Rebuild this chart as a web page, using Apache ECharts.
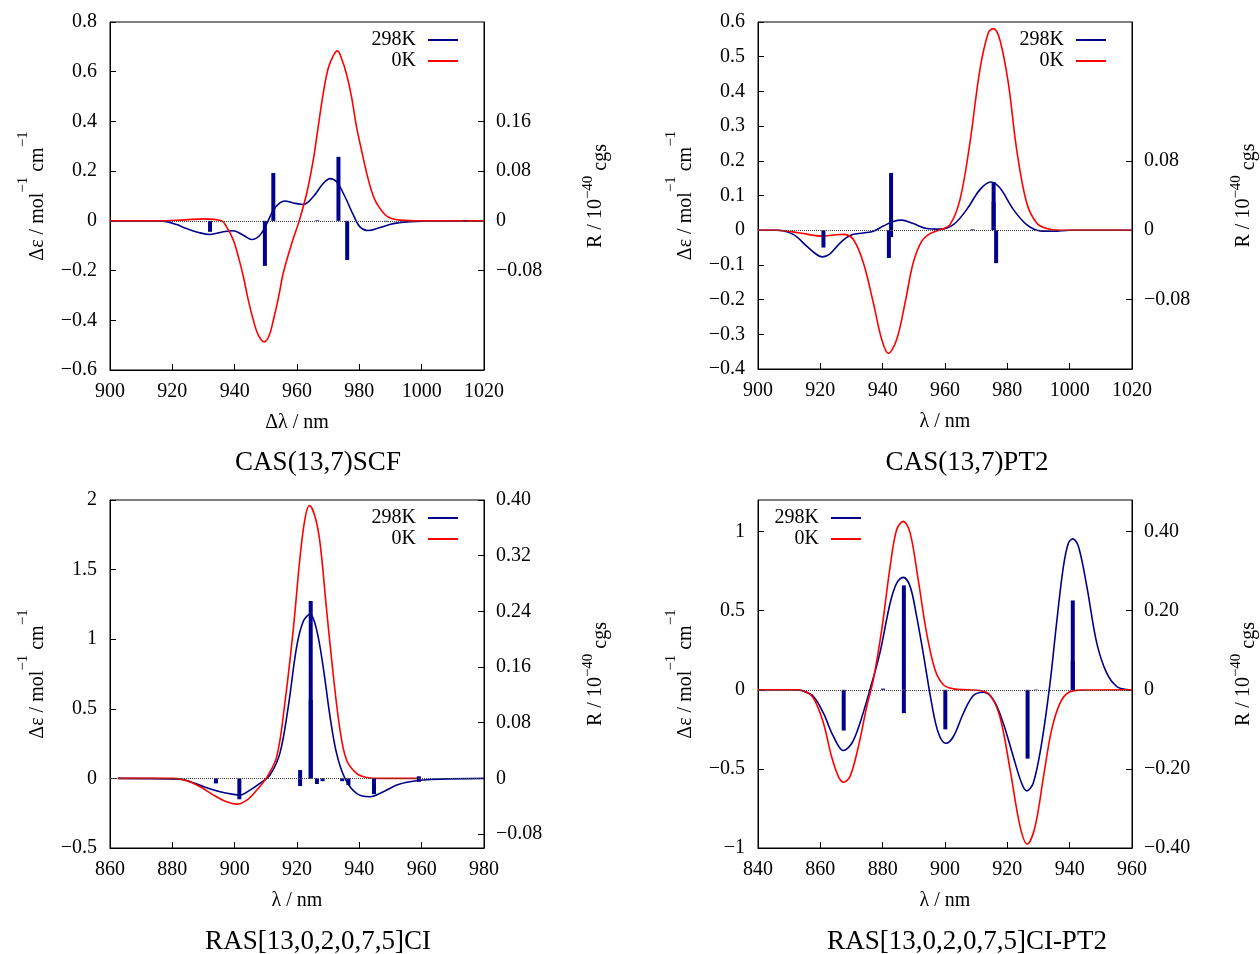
<!DOCTYPE html>
<html>
<head>
<meta charset="utf-8">
<script src="https://cdn.jsdelivr.net/npm/echarts@6/dist/echarts.min.js"></script>
<style>
  html, body { margin: 0; padding: 0; background: #fff; }
  #chart { width: 1260px; height: 954px; }
</style>
</head>
<body>
<div id="chart"></div>
<script>
// ---- CAS(13,7)SCF ----
const scfNm0 = [900, 915, 924, 930, 935.8, 937.4, 939.6, 941.2, 942.8, 944.4, 946, 947.6, 949.5, 951.1, 952.4, 954, 955.6, 958.3, 960.7, 963.1, 965.2, 966.8, 968.4, 970, 971.7, 973, 974.3, 975.9, 977.5, 979.1, 980.7, 982.4, 984, 985.6, 988.8, 993, 1000, 1020];
const scfEps0 = [0, 0, 0.004, 0.008, 0, -0.024, -0.078, -0.145, -0.225, -0.32, -0.40, -0.46, -0.487, -0.46, -0.40, -0.312, -0.21, -0.091, 0, 0.11, 0.244, 0.378, 0.512, 0.613, 0.666, 0.684, 0.653, 0.59, 0.499, 0.378, 0.284, 0.19, 0.117, 0.07, 0.019, 0.003, 0, 0];
const scfNm298 = [900, 915, 918.2, 921.4, 924.6, 928.5, 932, 936.4, 939.6, 942.8, 945.5, 948.1, 950.3, 952.4, 954.5, 956.1, 958.8, 962, 965.2, 968.4, 970.6, 972.7, 975.4, 978.1, 980.2, 982.9, 986.6, 990.9, 996.3, 1005, 1020];
const scfEps298 = [0, 0, -0.003, -0.015, -0.031, -0.047, -0.055, -0.044, -0.04, -0.058, -0.075, -0.058, -0.011, 0.043, 0.072, 0.08, 0.072, 0.066, 0.097, 0.15, 0.17, 0.157, 0.097, 0.023, -0.024, -0.039, -0.027, -0.011, -0.003, 0, 0];
const scfStickNm = [932.1, 949.7, 952.4, 966.5, 973.3, 976.1, 988.6, 1013.9];
const scfStickR = [-0.0176, -0.0725, 0.077, 0.001, 0.103, -0.063, -0.001, 0.001];
const scfRTicks = [-0.08, 0, 0.08, 0.16];

// ---- CAS(13,7)PT2 ----
const pt2Nm0 = [900, 906, 913.5, 920.4, 924.2, 927.4, 930.6, 933.8, 937, 939.7, 941.8, 944.5, 947.2, 949.8, 952.5, 955.2, 958.4, 961.6, 964.8, 968, 971.2, 973.9, 975.5, 977.6, 980.3, 983, 986.2, 989.4, 992.6, 997, 1020];
const pt2Eps0 = [0, 0, -0.008, -0.017, -0.014, -0.012, -0.027, -0.094, -0.209, -0.315, -0.355, -0.315, -0.209, -0.094, -0.032, -0.01, 0.001, 0.016, 0.088, 0.252, 0.463, 0.569, 0.581, 0.549, 0.425, 0.232, 0.079, 0.021, 0.005, 0, 0];
const pt2Nm298 = [900, 906, 911.3, 915.6, 918.8, 920.7, 923.1, 926.3, 929.5, 933.8, 937, 940.2, 943.4, 946.1, 949.8, 954.1, 958.4, 962.7, 967, 971.2, 974.7, 977.6, 981.9, 986.2, 990.5, 994.8, 1000, 1020];
const pt2Eps298 = [0, 0, -0.012, -0.046, -0.07, -0.077, -0.068, -0.037, -0.015, -0.008, -0.003, 0.012, 0.025, 0.029, 0.019, 0.005, 0.003, 0.016, 0.06, 0.117, 0.139, 0.122, 0.06, 0.016, -0.002, -0.003, 0, 0];
const pt2StickNm = [921, 942.0, 942.7, 942.7, 968.8, 975.6, 975.6, 976.4];
const pt2StickR = [-0.020, -0.032, 0.066, -0.008, 0.001, 0.0556, 0.033, -0.038];
const pt2RTicks = [-0.08, 0, 0.08];

// ---- RAS[13,0,2,0,7,5]CI ----
const rasNm0 = [862.5, 880.3, 884.6, 888.9, 893.2, 897.4, 900.6, 903.9, 907.1, 910.3, 913.5, 916.1, 918.8, 921, 922.6, 924, 925.8, 927.4, 929.5, 931.7, 933.8, 935.9, 939.1, 942.4, 947.7, 959];
const rasEps0 = [0, 0, -0.017, -0.06, -0.12, -0.168, -0.185, -0.156, -0.084, 0.007, 0.156, 0.54, 1.07, 1.595, 1.87, 1.96, 1.88, 1.69, 1.21, 0.73, 0.348, 0.132, 0.036, 0.007, 0, 0];
const rasNm298 = [862.5, 882.5, 886.7, 891, 895.3, 899.6, 901.7, 904.9, 908.1, 911.3, 914.5, 917.2, 919.9, 922, 924.2, 926.3, 928.4, 930.6, 932.7, 935.4, 939.1, 943.4, 947.7, 952, 956.3, 960.5, 965.9, 980];
const rasEps298 = [0, -0.005, -0.031, -0.067, -0.096, -0.115, -0.12, -0.084, -0.036, 0.024, 0.18, 0.516, 0.947, 1.127, 1.18, 1.067, 0.80, 0.444, 0.18, 0, -0.108, -0.132, -0.096, -0.048, -0.024, -0.012, -0.005, 0];
const rasStickNm = [894, 901.5, 921, 921, 924.4, 924.4, 926.4, 928.2, 934.5, 936.5, 944.7, 959.1, 959.1];
const rasStickR = [-0.0072, -0.030, 0.012, -0.011, 0.255, 0.113, -0.008, -0.004, -0.004, -0.0096, -0.0225, 0.003, -0.005];
const rasRTicks = [-0.08, 0, 0.08, 0.16, 0.24, 0.32, 0.40];

// ---- RAS[13,0,2,0,7,5]CI-PT2 ----
const rasPtNm0 = [840, 851.3, 854.5, 857.8, 861, 863.6, 865.8, 867.4, 869.5, 872.2, 874.9, 877, 879.7, 882.4, 884.5, 886.6, 888.8, 891.4, 894.1, 896.8, 899.5, 902.7, 907, 911.2, 914.4, 917.6, 920.9, 924.1, 926.4, 928.9, 931.6, 934.2, 936.9, 939.6, 943.3, 960];
const rasPtEps0 = [0, 0, -0.006, -0.053, -0.211, -0.422, -0.549, -0.584, -0.549, -0.359, -0.105, 0.063, 0.38, 0.78, 1.013, 1.065, 0.992, 0.696, 0.359, 0.127, 0.032, 0.006, 0, -0.004, -0.032, -0.169, -0.506, -0.865, -0.975, -0.865, -0.549, -0.253, -0.084, -0.017, -0.002, 0];
const rasPtNm298 = [840, 851.3, 854.5, 857.8, 861, 864.2, 867.4, 870.1, 872.7, 875.9, 879.1, 882.4, 884.5, 886.6, 888.8, 890.9, 893, 895.7, 897.9, 900.3, 902.7, 905.9, 909.1, 912.3, 915.5, 918.7, 921.9, 924.6, 926.2, 928.3, 931, 933.7, 935.8, 938, 939.6, 941, 942.8, 945.5, 948.7, 951.9, 955.1, 958.3, 960];
const rasPtEps298 = [0, 0, -0.008, -0.042, -0.148, -0.295, -0.384, -0.338, -0.211, 0, 0.232, 0.549, 0.675, 0.711, 0.654, 0.464, 0.232, -0.084, -0.274, -0.338, -0.295, -0.148, -0.036, -0.015, -0.063, -0.211, -0.422, -0.591, -0.639, -0.591, -0.338, 0.042, 0.422, 0.78, 0.928, 0.954, 0.907, 0.654, 0.295, 0.105, 0.021, 0.002, 0];
const rasPtStickNm = [867.5, 880.1, 886.8, 886.8, 900.1, 926.5, 929.2, 941, 941];
const rasPtStickR = [-0.103, 0.003, 0.264, -0.059, -0.10, -0.174, 0.001, 0.226, 0.072];
const rasPtEpsTicks = [-1, -0.5, 0, 0.5, 1];
const rasPtRTicks = [-0.4, -0.2, 0, 0.2, 0.4];

const FONT = '"Liberation Serif", "DejaVu Serif", "Times New Roman", serif';
const BLUE = "#00008b";
const RED = "#ff0000";

const zip = (xs, ys) => xs.map((x, i) => [x, ys[i]]);
const minus = (s) => s.replace("-", "\u2212");
const fixed = (d) => (v) => (Math.abs(v) < 1e-9 ? "0" : minus(v.toFixed(d)));
const short = (v) => (Math.abs(v) < 1e-9 ? "0" : minus(String(Number(v.toFixed(2)))));

const epsName = "{t|\u0394\u03b5 / mol}{s|\u22121}{t| cm}{s|\u22121}";
const epsRich = {
  t: { fontFamily: FONT, fontSize: 20, color: "#000", verticalAlign: "bottom" },
  s: { fontFamily: FONT, fontSize: 15, color: "#000", verticalAlign: "top", padding: [0, 0, 17, 0] },
};
const rName = "{t|R / 10}{s|\u221240}{d| cgs}";
const rRich = {
  t: { fontFamily: FONT, fontSize: 20, color: "#000", verticalAlign: "bottom", padding: [0, 0, 5, 0] },
  s: { fontFamily: FONT, fontSize: 15, color: "#000", verticalAlign: "top", padding: [0, 0, 15, 0] },
  d: { fontFamily: FONT, fontSize: 20, color: "#000", verticalAlign: "bottom" },
};

const panels = [
  {
    title: "CAS(13,7)SCF", xName: "\u0394\u03bb / nm",
    grid: { left: 110, top: 22, width: 374, height: 348 },
    xMin: 900, xMax: 1020, yMin: -0.6, yMax: 0.8, yInterval: 0.2, yFmt: fixed(1),
    y2Min: -0.24, y2Max: 0.32, y2Ticks: scfRTicks,
    titleX: 318, titleY: 449, legendRight: 797, legendTop: 25,
    nm0: scfNm0, eps0: scfEps0, nm298: scfNm298, eps298: scfEps298, stickNm: scfStickNm, stickR: scfStickR,
  },
  {
    title: "CAS(13,7)PT2", xName: "\u03bb / nm",
    grid: { left: 758, top: 22, width: 374, height: 347 },
    xMin: 900, xMax: 1020, yMin: -0.4, yMax: 0.6, yInterval: 0.1, yFmt: fixed(1),
    y2Min: -0.16, y2Max: 0.24, y2Ticks: pt2RTicks,
    titleX: 967, titleY: 449, legendRight: 149, legendTop: 25,
    nm0: pt2Nm0, eps0: pt2Eps0, nm298: pt2Nm298, eps298: pt2Eps298, stickNm: pt2StickNm, stickR: pt2StickR,
  },
  {
    title: "RAS[13,0,2,0,7,5]CI", xName: "\u03bb / nm",
    grid: { left: 110, top: 500, width: 374, height: 348 },
    xMin: 860, xMax: 980, yMin: -0.5, yMax: 2, yInterval: 0.5, yFmt: short,
    y2Min: -0.1, y2Max: 0.4, y2Ticks: rasRTicks,
    titleX: 318, titleY: 928, legendRight: 797, legendTop: 503,
    nm0: rasNm0, eps0: rasEps0, nm298: rasNm298, eps298: rasEps298, stickNm: rasStickNm, stickR: rasStickR,
  },
  {
    title: "RAS[13,0,2,0,7,5]CI-PT2", xName: "\u03bb / nm",
    grid: { left: 758, top: 500, width: 374, height: 348 },
    xMin: 840, xMax: 960, yMin: -1, yMax: 1.2, yTicks: rasPtEpsTicks, yFmt: short,
    y2Min: -0.4, y2Max: 0.48, y2Ticks: rasPtRTicks,
    titleX: 967, titleY: 928, legendRight: 394, legendTop: 503,
    nm0: rasPtNm0, eps0: rasPtEps0, nm298: rasPtNm298, eps298: rasPtEps298, stickNm: rasPtStickNm, stickR: rasPtStickR,
  },
];

const labelStyle = { fontFamily: FONT, fontSize: 20, color: "#000" };
const axisLine = { onZero: false, lineStyle: { color: "#000", width: 1 } };
const tick = () => ({ inside: true, length: 6, lineStyle: { color: "#000" } });

const option = {
  animation: false,
  backgroundColor: "#fff",
  textStyle: { fontFamily: FONT },
  title: [], legend: [], grid: [], xAxis: [], yAxis: [], series: [],
};

panels.forEach((p, i) => {
  option.grid.push({ ...p.grid, show: true, borderColor: "#000", borderWidth: 1, backgroundColor: "transparent" });

  option.title.push({
    text: p.title, left: p.titleX, top: p.titleY, textAlign: "center", padding: 0,
    textStyle: { fontFamily: FONT, fontSize: 27, fontWeight: "normal", color: "#000" },
  });

  option.legend.push({
    data: ["298K", "0K"], orient: "vertical", align: "right",
    right: p.legendRight, top: p.legendTop,
    icon: "rect", itemWidth: 30, itemHeight: 2, itemGap: 1, selectedMode: false,
    textStyle: { ...labelStyle, padding: [0, 7, 0, 0] },
  });

  option.xAxis.push({
    type: "value", gridIndex: i, min: p.xMin, max: p.xMax, interval: 20,
    name: p.xName, nameLocation: "middle", nameGap: 43,
    nameTextStyle: { ...labelStyle },
    axisLine, axisTick: tick(),
    axisLabel: { ...labelStyle, margin: 12, formatter: (v) => String(v) },
    splitLine: { show: false },
  });

  const left = {
    type: "value", gridIndex: i, position: "left", min: p.yMin, max: p.yMax,
    name: epsName, nameLocation: "middle", nameGap: 62,
    nameTextStyle: { rich: epsRich },
    axisLine, axisTick: tick(),
    axisLabel: { ...labelStyle, margin: 13, formatter: p.yFmt },
    splitLine: { show: false },
  };
  if (p.yTicks) {
    left.axisTick.customValues = p.yTicks;
    left.axisLabel.customValues = p.yTicks;
  } else {
    left.interval = p.yInterval;
  }
  option.yAxis.push(left);

  option.yAxis.push({
    type: "value", gridIndex: i, position: "right", min: p.y2Min, max: p.y2Max,
    name: rName, nameLocation: "middle", nameGap: 97,
    nameTextStyle: { rich: rRich },
    axisLine, axisTick: { ...tick(), customValues: p.y2Ticks },
    axisLabel: { ...labelStyle, margin: 12, customValues: p.y2Ticks, formatter: fixed(2) },
    splitLine: { show: false },
  });

  option.series.push({
    type: "bar", name: "R" + i, xAxisIndex: i, yAxisIndex: 2 * i + 1,
    data: zip(p.stickNm, p.stickR), barWidth: 4,
    itemStyle: { color: BLUE }, z: 4,
  });
  option.series.push({
    type: "line", name: "298K", xAxisIndex: i, yAxisIndex: 2 * i,
    data: zip(p.nm298, p.eps298), showSymbol: false, smooth: 0.35,
    color: BLUE, lineStyle: { width: 1.6 }, z: 2,
    markLine: {
      silent: true, symbol: ["none", "none"], label: { show: false },
      lineStyle: { type: "dotted", color: "#444", width: 1 },
      data: [{ yAxis: 0 }],
    },
  });
  option.series.push({
    type: "line", name: "0K", xAxisIndex: i, yAxisIndex: 2 * i,
    data: zip(p.nm0, p.eps0), showSymbol: false, smooth: 0.35,
    color: RED, lineStyle: { width: 1.6 }, z: 3,
  });
});

const chart = echarts.init(document.getElementById("chart"));
chart.setOption(option);
</script>
</body>
</html>
